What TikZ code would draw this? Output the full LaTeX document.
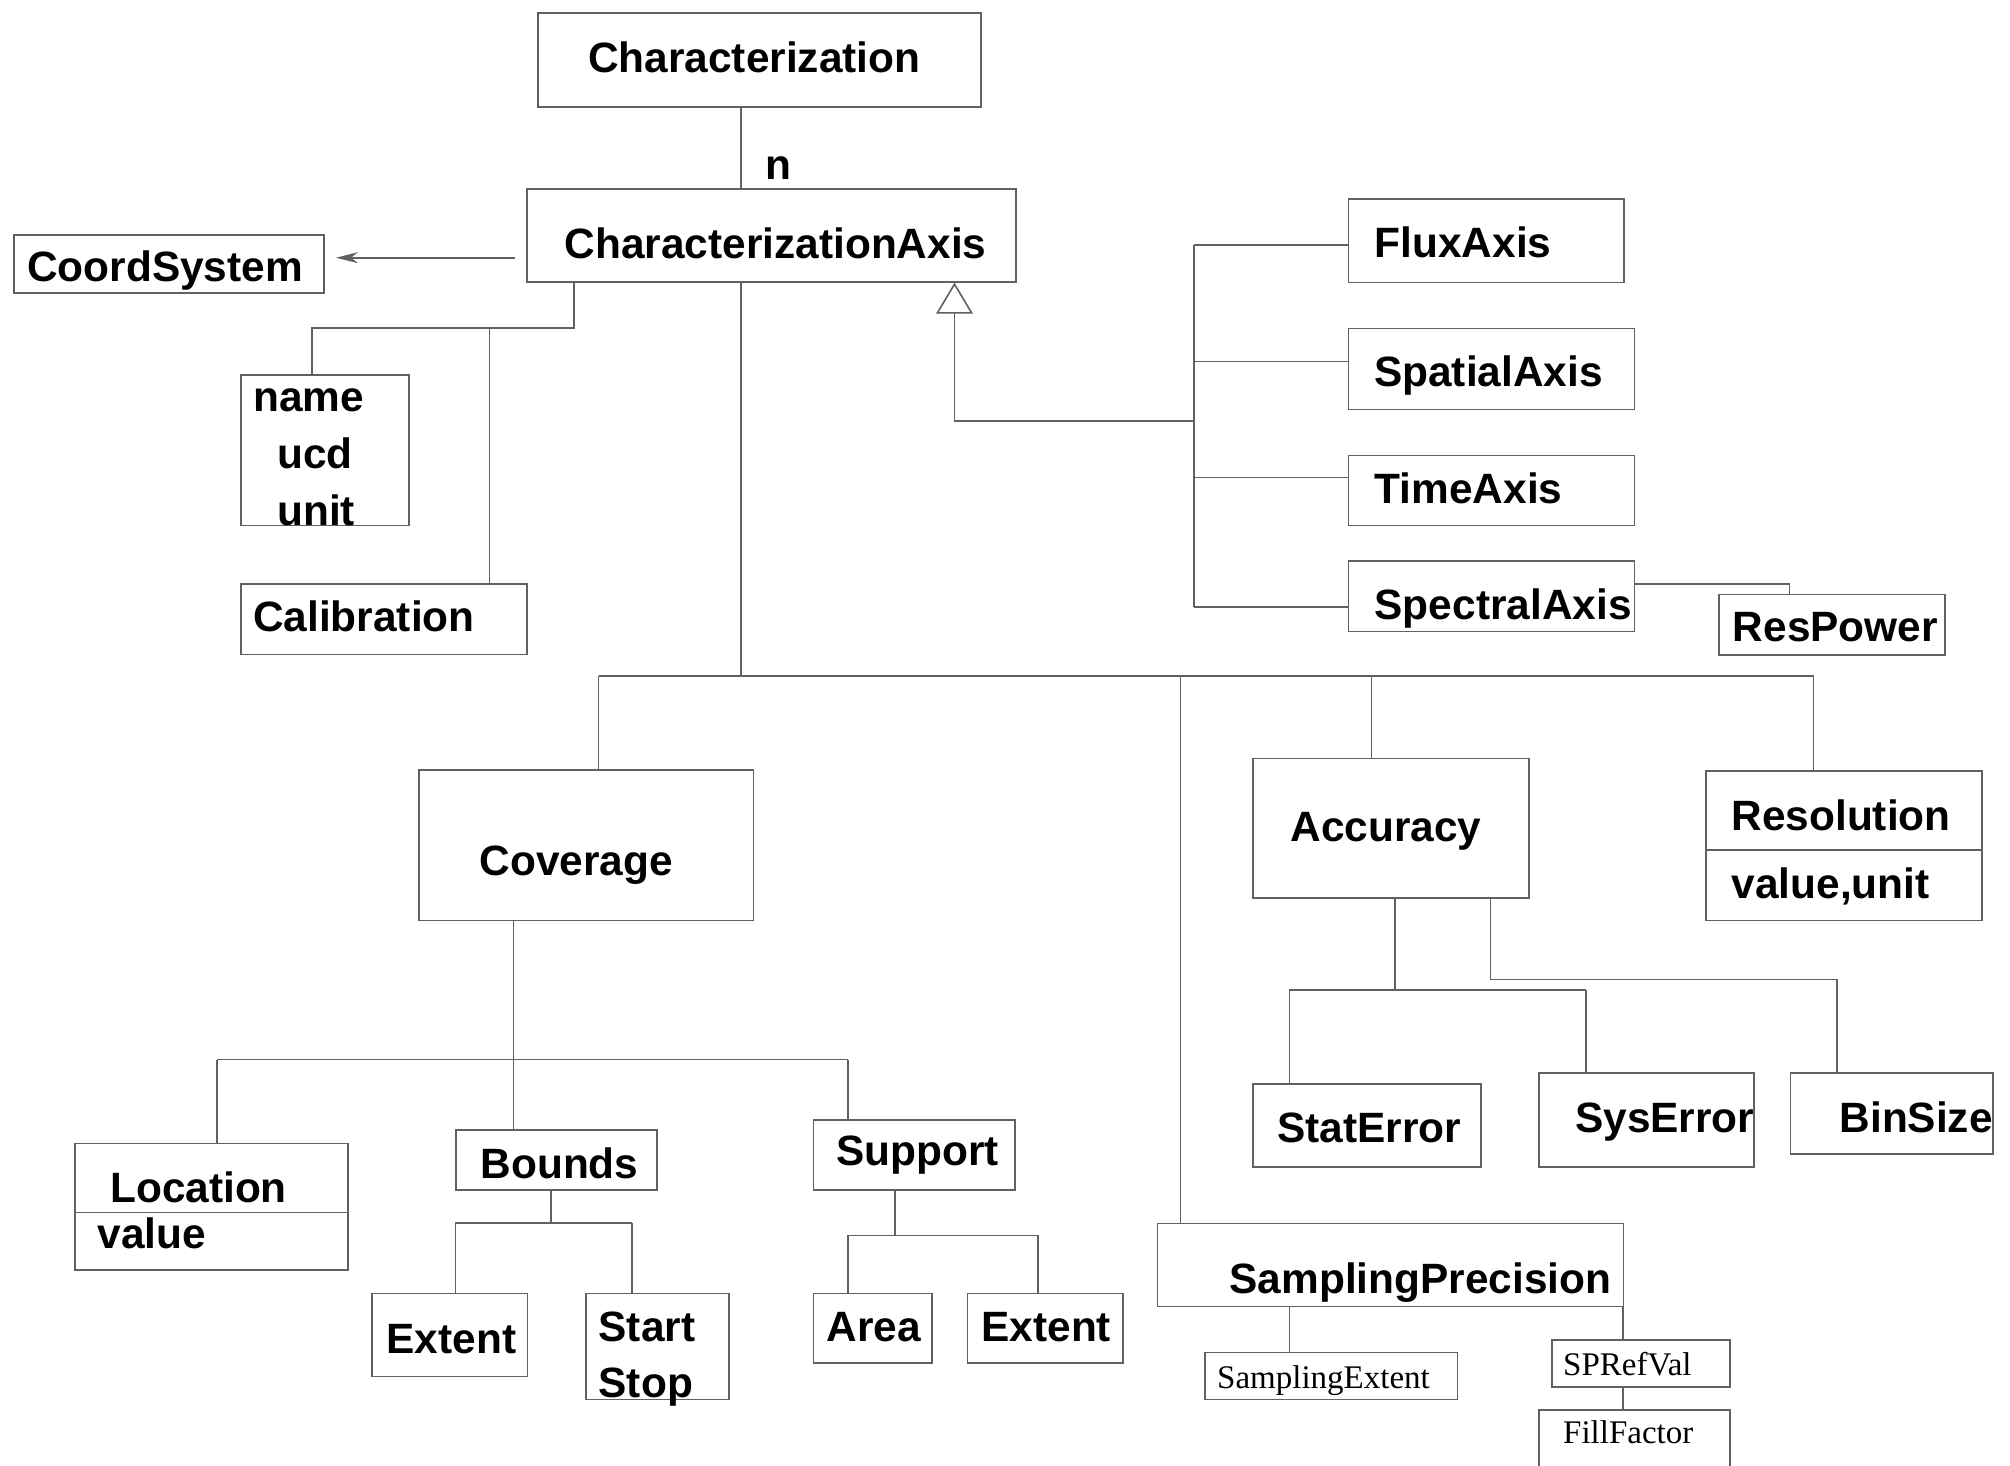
\documentclass[tikz,border=0pt]{standalone}
\usepackage{fontspec}
\setmainfont{Liberation Sans}
\newfontfamily\tmsfont{Liberation Serif}
\usetikzlibrary{arrows.meta}
\definecolor{lc}{gray}{0.38}
\tikzset{
  box/.style={draw=lc, line width=1.6pt, inner sep=0pt, anchor=north west},
  txt/.style={inner sep=0pt, anchor=base west, yshift=-2.5pt, font=\fontsize{42.4}{50}\selectfont\bfseries},
  stxt/.style={inner sep=0pt, anchor=base west, yshift=-2pt, font=\fontsize{33}{38}\selectfont\tmsfont},
  con/.style={draw=lc, line width=1.6pt},
}
\newcommand\bx[5]{\node[box, minimum width={(#4-#2)*1pt}, minimum height={(#5-#3)*1pt}] (#1) at (#2,#3) {};}
\begin{document}
\begin{tikzpicture}[x=1pt,y=-1pt]
\useasboundingbox (0,0) rectangle (2010,1466);
\clip (0,0) rectangle (2010,1466);
% boxes
\bx{char}{537}{12}{980}{106}
\bx{axis}{526}{188}{1015}{281}
\bx{coord}{13}{234}{323}{292}
\bx{attr}{240}{374}{408}{524.5}
\bx{calib}{240}{583}{526}{653.6}
\bx{flux}{1347.6}{198}{1623}{281.5}
\bx{spatial}{1347.6}{327.8}{1633.5}{408.5}
\bx{time}{1347.6}{454.5}{1633.5}{524.6}
\bx{spectral}{1347.6}{560}{1633.5}{630.5}
\bx{respower}{1718}{593.7}{1944}{654}
\bx{coverage}{418}{769.4}{752.5}{919.8}
\bx{location}{74}{1142.6}{347}{1269}
\bx{bounds}{455.4}{1129.4}{656.4}{1189}
\bx{extentA}{371}{1292.6}{526.6}{1375.6}
\bx{startstop}{585}{1292.6}{728}{1398.6}
\bx{support}{812.6}{1119}{1014.3}{1189}
\bx{area}{812.6}{1292.6}{931.4}{1362.4}
\bx{extentB}{966.6}{1292.6}{1122}{1362.4}
\bx{accuracy}{1252}{757.6}{1527.9}{896.9}
\bx{resolution}{1705}{769.9}{1981}{919.8}
\bx{staterr}{1252}{1083}{1480.2}{1166}
\bx{syserr}{1538.3}{1072.2}{1753.3}{1166}
\bx{binsize}{1789.5}{1072.2}{1991.9}{1152.9}
\bx{samp}{1156.6}{1222.7}{1622.8}{1305.8}
\bx{sampext}{1204.3}{1351.7}{1456.6}{1398.6}
\bx{sprefval}{1551}{1339}{1729}{1386}
\bx{fillfactor}{1538}{1409}{1729}{1490}
% dividers
\draw[con] (location.north west) ++(0,69.9) coordinate (locdiv) -- (locdiv -| location.east);
\draw[con] (resolution.north west) ++(0,80.1) coordinate (resdiv) -- (resdiv -| resolution.east);
% texts
\node[txt] (tchar) at (588,70.5) {Characterization};
\node[txt] (taxis) at (564.5,256) {CharacterizationAxis};
\node[txt] (tn) at (765.7,177) {n};
\node[txt] (tcoord) at (27,279) {CoordSystem};
\node[txt] (tname) at (253,408.5) {name};
\node[txt] (tucd) at (277,465.6) {ucd};
\node[txt] (tunit) at (277,523) {unit};
\node[txt] (tcalib) at (253,628.6) {Calibration};
\node[txt] (tflux) at (1374.5,255) {FluxAxis};
\node[txt] (tspatial) at (1374,384) {SpatialAxis};
\node[txt] (ttime) at (1374.5,500.8) {TimeAxis};
\node[txt] (tspectral) at (1374.5,617) {SpectralAxis};
\node[txt] (trespower) at (1732.6,639.3) {ResPower};
\node[txt] (tcoverage) at (479.6,873.4) {Coverage};
\node[txt] (tlocation) at (110,1199.8) {Location};
\node[txt] (tlocval) at (97.5,1246) {value};
\node[txt] (tbounds) at (480.4,1176.3) {Bounds};
\node[txt] (tsupport) at (836,1163) {Support};
\node[txt] (textentA) at (386.5,1351) {Extent};
\node[txt] (tstart) at (598.5,1339) {Start};
\node[txt] (tstop) at (598.5,1395) {Stop};
\node[txt] (tarea) at (826.5,1339) {Area};
\node[txt] (textentB) at (981.3,1339) {Extent};
\node[txt] (taccuracy) at (1290.4,839.2) {Accuracy};
\node[txt] (tresolution) at (1731.4,828) {Resolution};
\node[txt] (tresval) at (1731.4,896.4) {value,unit};
\node[txt] (tstaterr) at (1277.2,1139.7) {StatError};
\node[txt] (tsyserr) at (1575,1129.9) {SysError};
\node[txt] (tbinsize) at (1839.4,1129.9) {BinSize};
\node[txt] (tsamp) at (1229.5,1291) {SamplingPrecision};
\node[stxt] (tsampext) at (1217,1386.4) {SamplingExtent};
\node[stxt] (tsprefval) at (1563,1373) {SPRefVal};
\node[stxt] (tfill) at (1563,1441.7) {FillFactor};
% junction coordinates
\coordinate (arrS) at (515,257.7);
\coordinate (arrE) at (336,257.7);
\coordinate (jAttr) at (574,327.7);
\coordinate (jCal) at (489.5,327.7);
\coordinate (jAttrL) at (312,327.7);
\coordinate (busC) at (741,676);
\coordinate (busL) at (598.5,676);
\coordinate (busR) at (1813.5,676);
\coordinate (busS) at (1180.5,676);
\coordinate (busA) at (1371.5,676);
\coordinate (gTop) at (1194,244.7);
\coordinate (gBot) at (1194,607);
\coordinate (gMid) at (1194,420.8);
\coordinate (gCorner) at (954.5,420.8);
\coordinate (spR) at (1789.6,584);
\coordinate (covJ) at (513.4,1059.5);
\coordinate (covL) at (217,1059.5);
\coordinate (covR) at (847.8,1059.5);
\coordinate (bnJ) at (550.8,1222.7);
\coordinate (bnL) at (455.4,1222.7);
\coordinate (bnR) at (632.2,1222.7);
\coordinate (suJ) at (894.8,1235.4);
\coordinate (suL) at (847.8,1235.4);
\coordinate (suR) at (1037.8,1235.4);
\coordinate (acJ) at (1395.2,990.2);
\coordinate (acL) at (1289.3,990.2);
\coordinate (acR) at (1586,990.2);
\coordinate (acB1) at (1490.6,979.4);
\coordinate (acB2) at (1837.2,979.4);
\coordinate (saL) at (1289.3,0);
\coordinate (saR) at (1622.8,0);
% connectors
\draw[con] (char.south -| busC) -- (axis.north -| busC);
\draw[con, -{Stealth[length=22pt,width=11pt,inset=7pt]}] (arrS) -- (arrE);
\draw[con] (axis.south -| jAttr) -- (jAttr) -- (jAttrL) -- (attr.north -| jAttrL);
\draw[con] (jCal) -- (calib.north -| jCal);
\draw[con] (axis.south -| busC) -- (busC);
\draw[con] (busL) -- (busR);
\draw[con] (busL) -- (coverage.north -| busL);
\draw[con] (busS) -- (samp.north -| busS);
\draw[con] (busA) -- (accuracy.north -| busA);
\draw[con] (busR) -- (resolution.north -| busR);
% generalization
\draw[con] (gTop) -- (gBot);
\draw[con] (gTop) -- (flux.west |- gTop);
\draw[con] (spatial.west |- 0,361.5) -- (gTop |- 0,361.5);
\draw[con] (time.west |- 0,477.6) -- (gTop |- 0,477.6);
\draw[con] (gBot) -- (spectral.west |- gBot);
\draw[con, -{Triangle[open,length=31pt,width=36.6pt]}] (gMid) -- (gCorner) -- (axis.south -| gCorner);
\draw[con] (spectral.east |- spR) -- (spR) -- (respower.north -| spR);
% coverage
\draw[con] (coverage.south -| covJ) -- (bounds.north -| covJ);
\draw[con] (covL) -- (covR);
\draw[con] (covL) -- (location.north -| covL);
\draw[con] (covR) -- (support.north -| covR);
\draw[con] (bounds.south -| bnJ) -- (bnJ);
\draw[con] (bnL) -- (bnR);
\draw[con] (bnL) -- (extentA.north -| bnL);
\draw[con] (bnR) -- (startstop.north -| bnR);
\draw[con] (support.south -| suJ) -- (suJ);
\draw[con] (suL) -- (suR);
\draw[con] (suL) -- (area.north -| suL);
\draw[con] (suR) -- (extentB.north -| suR);
% accuracy
\draw[con] (accuracy.south -| acJ) -- (acJ);
\draw[con] (acL) -- (acR);
\draw[con] (acL) -- (staterr.north -| acL);
\draw[con] (acR) -- (syserr.north -| acR);
\draw[con] (accuracy.south -| acB1) -- (acB1) -- (acB2) -- (binsize.north -| acB2);
% sampling precision
\draw[con] (samp.south -| saL) -- (sampext.north -| saL);
\draw[con] (samp.south -| saR) -- (sprefval.north -| saR);
\draw[con] (sprefval.south -| saR) -- (fillfactor.north -| saR);
\end{tikzpicture}
\end{document}
